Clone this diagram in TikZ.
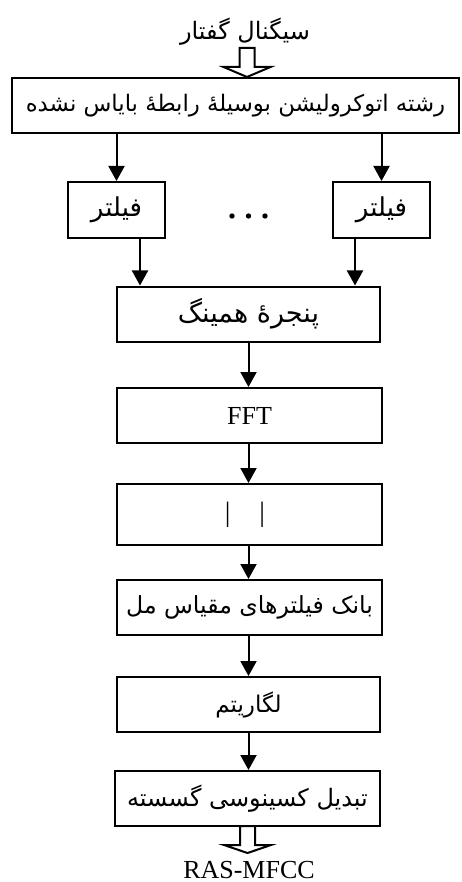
\documentclass[tikz,border=0pt]{standalone}
\usepackage{fontspec}
\setmainfont{Liberation Serif}
\newfontfamily\fa[Script=Arabic]{DejaVu Sans}
\TeXXeTstate=1
\usetikzlibrary{arrows.meta}
\newcommand{\fatext}[1]{{\fa\beginR #1\endR}}
\newcommand{\fs}[1]{\fontsize{#1}{#1}\selectfont}
\tikzset{
  box/.style={draw, line width=2pt, minimum height=55pt, inner sep=0pt,
    font=\fs{24}},
  flow/.style={line width=2pt, -{Triangle[length=15pt,width=16pt]}},
  hollow/.style={draw, line width=2pt, fill=white, line join=miter},
  pics/fatarrow/.style={code={
    \draw[hollow] (-7.5,0) -- (-7.5,19) -- (-23.5,19) -- (0,#1) -- (23.5,19)
      -- (7.5,19) -- (7.5,0) -- cycle;}},
}
\begin{document}
\begin{tikzpicture}[x=1pt, y=-1pt]
\useasboundingbox (0,0) rectangle (462,882);

% input label and processing chain
\node[font=\fs{24}] (sig) at (245,32) {\fatext{سیگنال گفتار}};
\node[box, minimum width=447pt, font=\fs{22.8}] (auto) at (235.5,105.5)
  {\fatext{رشته اتوکرولیشن بوسیلهٔ رابطهٔ بایاس نشده}};
\node[box, minimum width=97pt, minimum height=56pt, font=\fs{26}] (fL) at (116.5,210) {\fatext{فیلتر}};
\node[box, minimum width=97pt, minimum height=56pt, font=\fs{26}] (fR) at (381.5,210) {\fatext{فیلتر}};
\node[box, minimum width=263pt, font=\fs{27}] (ham) at (248.5,314) {\fatext{پنجرهٔ همینگ}};
\node[box, minimum width=265pt, font=\fs{26}] (fft) at (249.5,415.5) {FFT};
\node[box, minimum width=265pt, minimum height=61pt, font=\fs{28}] (abs) at (249.5,514.5)
  {\raisebox{-4pt}{|\hspace{29pt}|}\hspace{9pt}\mbox{}};
\node[box, minimum width=265pt, font=\fs{23.6}] (mel) at (249.5,607.5) {\fatext{بانک فیلترهای مقیاس مل}};
\node[box, minimum width=263pt, font=\fs{23}] (log) at (248.5,704.5) {\fatext{لگاریتم}};
\node[box, minimum width=265pt, font=\fs{24}] (dct) at (247.5,798.5) {\fatext{تبدیل کسینوسی گسسته}};
\node[font=\fs{26}, anchor=base, inner sep=0pt, text depth=0pt] (out) at (249,878) {RAS-MFCC};

% ellipsis between the filter branches
\foreach \dx in {232,248.5,265} \fill (\dx,216) circle (2.7pt);

% hollow input / output arrows
\pic at (247,48) {fatarrow=29};
\pic at (247.5,826) {fatarrow=27};

% connectors
\draw[flow] (fL.north |- auto.south) -- (fL.north);
\draw[flow] (fR.north |- auto.south) -- (fR.north);
\draw[flow] ([xshift=23.5pt]fL.south) -- ([xshift=23.5pt]fL.south |- ham.north);
\draw[flow] ([xshift=-26.5pt]fR.south) -- ([xshift=-26.5pt]fR.south |- ham.north);
\draw[flow] (ham.south) -- (ham.south |- fft.north);
\draw[flow] (ham.south |- fft.south) -- (ham.south |- abs.north);
\draw[flow] (ham.south |- abs.south) -- (ham.south |- mel.north);
\draw[flow] (ham.south |- mel.south) -- (ham.south |- log.north);
\draw[flow] (ham.south |- log.south) -- (ham.south |- dct.north);
\end{tikzpicture}
\end{document}
